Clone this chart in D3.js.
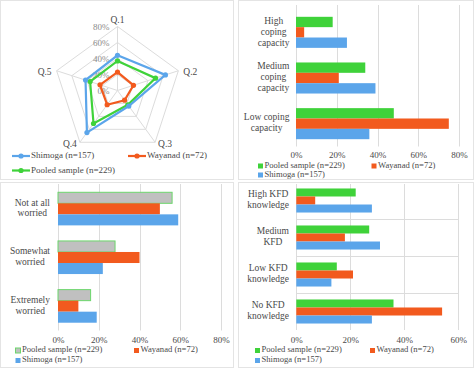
<!DOCTYPE html>
<html><head><meta charset="utf-8">
<script src="https://cdn.jsdelivr.net/npm/d3@7"></script>
<style>
html,body{margin:0;padding:0;background:#fff;}
svg{display:block;}
svg text{font-family:"Liberation Serif","DejaVu Serif","Times New Roman",serif !important;}
</style></head>
<body>
<svg id="c" width="474" height="368"></svg>
<script>
// ---------- DATA ----------
const radarAxes = ["Q.1","Q.2","Q.3","Q.4","Q.5"];
const radarShimoga = [0.44, 0.63, 0.24, 0.65, 0.42];
const radarWayanad = [0.23, 0.21, 0.15, 0.22, 0.23];
const radarPooled  = [0.37, 0.50, 0.22, 0.51, 0.36];
const radarTicks = [0, 0.2, 0.4, 0.6, 0.8];

const copingLabels = [["High","coping","capacity"],["Medium","coping","capacity"],["Low coping","capacity"]];
const copingPooled  = [0.18, 0.34, 0.48];
const copingWayanad = [0.04, 0.21, 0.75];
const copingShimoga = [0.25, 0.39, 0.36];
const copingTicks = [0, 0.2, 0.4, 0.6, 0.8];

const worryLabels = [["Not at all","worried"],["Somewhat","worried"],["Extremely","worried"]];
const worryPooled  = [0.56, 0.28, 0.16];
const worryWayanad = [0.50, 0.40, 0.10];
const worryShimoga = [0.59, 0.22, 0.19];
const worryTicks = [0, 0.2, 0.4, 0.6, 0.8];

const kfdLabels = [["High KFD","knowledge"],["Medium","KFD"],["Low KFD","knowledge"],["No KFD","knowledge"]];
const kfdPooled  = [0.22, 0.27, 0.15, 0.36];
const kfdWayanad = [0.07, 0.18, 0.21, 0.54];
const kfdShimoga = [0.28, 0.31, 0.13, 0.28];
const kfdTicks = [0, 0.2, 0.4, 0.6];

const seriesNames = {pooled:"Pooled sample (n=229)", wayanad:"Wayanad (n=72)", shimoga:"Shimoga (n=157)"};

// ---------- STYLE ----------
const GREEN = "#3fd23a", ORANGE = "#f25a1e", BLUE = "#5ba5ea", GRAY = "#c0c0c0", GRID = "#dcdcdc", TXT = "#4a4a4a";
const FONT = "Liberation Serif, DejaVu Serif, Times New Roman, serif";
const svg = d3.select("#c");

// panel borders
[[0.5,0.5,233,179],[238.5,0.5,235,179],[0.5,182.5,233,185],[238.5,182.5,235,185]].forEach(r=>{
  svg.append("rect").attr("x",r[0]).attr("y",r[1]).attr("width",r[2]).attr("height",r[3])
    .attr("fill","none").attr("stroke","#e4e4e4").attr("stroke-width",1);
});

// ---------- RADAR ----------
(function(){
  const cx = 117.5, cy = 90.5;
  const r = d3.scaleLinear().domain([0,0.8]).range([0,64]);
  const ang = d3.scalePoint().domain(radarAxes).range([0, 2*Math.PI*4/5]);
  const pt = (a,v)=>[cx + r(v)*Math.sin(ang(a)), cy - r(v)*Math.cos(ang(a))];
  const g = svg.append("g").attr("font-family",FONT);
  radarTicks.slice(1).forEach(t=>{
    g.append("polygon").attr("points", radarAxes.map(a=>pt(a,t).join(",")).join(" "))
      .attr("fill","none").attr("stroke",GRID).attr("stroke-width",1);
  });
  radarAxes.forEach(a=>{
    const p = pt(a,0.8);
    g.append("line").attr("x1",cx).attr("y1",cy).attr("x2",p[0]).attr("y2",p[1]).attr("stroke",GRID);
  });
  radarTicks.forEach(t=>{
    g.append("text").attr("x",cx-8).attr("y",cy - r(t)+1.5).attr("dominant-baseline","middle")
      .attr("text-anchor","end").attr("font-size",9).attr("fill","#8a8a8a").text(d3.format(".0%")(t));
  });
  const labOff = {"Q.1":[0,-6,"middle"],"Q.2":[5,2,"start"],"Q.3":[10,3,"middle"],"Q.4":[-10,3,"middle"],"Q.5":[-5,2,"end"]};
  radarAxes.forEach(a=>{
    const p = pt(a,0.8), o = labOff[a];
    g.append("text").attr("x",p[0]+o[0]).attr("y",p[1]+o[1]).attr("text-anchor",o[2])
      .attr("dominant-baseline","middle").attr("font-size",9.5).attr("fill",TXT).text(a);
  });
  const line = d3.line().curve(d3.curveLinearClosed);
  [[radarPooled,GREEN],[radarShimoga,BLUE],[radarWayanad,ORANGE]].forEach(([vals,col])=>{
    const pts = radarAxes.map((a,i)=>pt(a,vals[i]));
    g.append("path").attr("d",line(pts)).attr("fill","none").attr("stroke",col).attr("stroke-width",2.2);
    pts.forEach(p=>g.append("circle").attr("cx",p[0]).attr("cy",p[1]).attr("r",2.6).attr("fill",col));
  });
  const leg = [[seriesNames.shimoga,BLUE,12,156],[seriesNames.wayanad,ORANGE,128,156],[seriesNames.pooled,GREEN,12,170.5]];
  leg.forEach(([t,col,x,y])=>{
    g.append("line").attr("x1",x).attr("x2",x+18).attr("y1",y).attr("y2",y).attr("stroke",col).attr("stroke-width",2.2);
    g.append("circle").attr("cx",x+9).attr("cy",y).attr("r",2.6).attr("fill",col);
    g.append("text").attr("x",x+19).attr("y",y).attr("dominant-baseline","middle").attr("font-size",9)
      .attr("fill",TXT).text(t);
  });
})();

// ---------- BAR CHART ----------
function barChart(o){
  const g = svg.append("g").attr("font-family",FONT);
  const x = d3.scaleLinear().domain([0, o.max]).range([o.x0, o.x1]);
  const cats = o.labels.map((d,i)=>i);
  const y = d3.scaleBand().domain(cats).range([o.yTop, o.yBot]).paddingInner(o.pad).paddingOuter(o.pad/2);
  const inner = d3.scaleBand().domain(["pooled","wayanad","shimoga"]).range([0, y.bandwidth()]);
  g.append("g").selectAll("line").data(o.ticks).join("line")
    .attr("x1",d=>Math.round(x(d))+0.5).attr("x2",d=>Math.round(x(d))+0.5)
    .attr("y1",o.gridTop).attr("y2",o.yBot).attr("stroke",GRID);
  if(o.hgrid){
    g.append("g").selectAll("line").data(cats.slice(1)).join("line")
      .attr("x1",o.x0).attr("x2",o.x1)
      .attr("y1",d=>Math.round(y(d)-y.step()*o.pad/2)+0.5).attr("y2",d=>Math.round(y(d)-y.step()*o.pad/2)+0.5)
      .attr("stroke",GRID);
  }
  const ax = d3.axisBottom(x).tickValues(o.ticks).tickFormat(d3.format(".0%")).tickSize(0).tickPadding(0);
  const axg = g.append("g").attr("transform",`translate(0,${o.tickY})`).call(ax).attr("font-family",FONT);
  axg.select(".domain").remove();
  axg.selectAll("text").attr("font-size",9).attr("fill",TXT).attr("dy","0.35em").attr("y",0);
  const series = [["pooled",o.pooled,o.pooledFill||GREEN,o.pooledStroke],["wayanad",o.wayanad,ORANGE],["shimoga",o.shimoga,BLUE]];
  series.forEach(([k,vals,col,stroke])=>{
    g.append("g").selectAll("rect").data(vals).join("rect")
      .attr("x",x(0)).attr("y",(d,i)=>y(i)+inner(k))
      .attr("width",d=>x(d)-x(0)).attr("height",inner.bandwidth())
      .attr("fill",col).attr("stroke",stroke||"none").attr("stroke-width",stroke?1:0);
  });
  o.labels.forEach((lines,i)=>{
    const cyc = y(i)+y.bandwidth()/2;
    const tg = g.append("g");
    const ts = lines.map((l,j)=>tg.append("text").attr("y",cyc + (j-(lines.length-1)/2)*o.lh)
      .attr("dominant-baseline","middle").attr("text-anchor","middle").attr("font-size",9.5).attr("fill",TXT).text(l));
    const w = d3.max(ts, t=>t.node().getComputedTextLength());
    ts.forEach(t=>t.attr("x", o.labelRight - w/2));
  });
  const leg = [[seriesNames.pooled,o.pooledFill||GREEN,o.pooledStroke,o.legX1,o.legY1],
               [seriesNames.wayanad,ORANGE,null,o.legX2,o.legY1],
               [seriesNames.shimoga,BLUE,null,o.legX1,o.legY2]];
  leg.forEach(([t,col,stroke,lx,ly])=>{
    g.append("rect").attr("x",lx).attr("y",ly-2.5).attr("width",5).attr("height",5).attr("fill",col)
      .attr("stroke",stroke||"none").attr("stroke-width",stroke?1:0);
    g.append("text").attr("x",lx+6.5).attr("y",ly).attr("dominant-baseline","middle").attr("font-size",8.6)
      .attr("fill",TXT).text(t);
  });
}

barChart({labels:copingLabels, pooled:copingPooled, wayanad:copingWayanad, shimoga:copingShimoga, ticks:copingTicks,
  max:0.8, x0:296, x1:459, yTop:9.5, yBot:146.5, gridTop:5, pad:0.32, lh:11, labelRight:289.5,
  tickY:154.5, legX1:258, legX2:371.5, legY1:166, legY2:175});

barChart({labels:worryLabels, pooled:worryPooled, wayanad:worryWayanad, shimoga:worryShimoga, ticks:worryTicks,
  max:0.8, x0:58, x1:221, yTop:184.5, yBot:330.5, gridTop:184, pad:0.32, lh:10.7, labelRight:50,
  tickY:339.5, legX1:15.5, legX2:134, legY1:350.5, legY2:360.5, pooledFill:GRAY, pooledStroke:"#6cd66c"});

barChart({labels:kfdLabels, pooled:kfdPooled, wayanad:kfdWayanad, shimoga:kfdShimoga, ticks:kfdTicks,
  max:0.6, x0:296.3, x1:458.3, yTop:182, yBot:330, gridTop:184, pad:0.35, lh:10.4, labelRight:289,
  tickY:339.5, hgrid:true, legX1:255, legX2:370, legY1:350.5, legY2:360.5});
</script>
</body></html>
